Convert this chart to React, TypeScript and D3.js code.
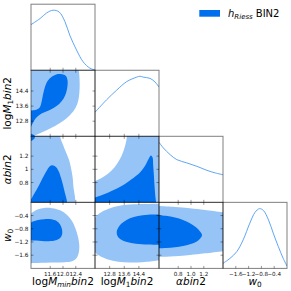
import * as d3 from 'd3';

// parameter ranges (same limits used for rows and columns)
const mminRange = [11, 13];
const m1Range = [12, 15.5];
const alphaRange = [0.5, 1.5];
const w0Range = [-2, 0];

const mminTicks = [11.6, 12.0, 12.4];
const mminTickLabels = ['11.6', '12.0', '12.4'];
const m1Ticks = [12.8, 13.6, 14.4];
const m1TickLabels = ['12.8', '13.6', '14.4'];
const alphaTicks = [0.8, 1.0, 1.2];
const alphaXTickLabels = ['0.8', '1.0', '1.2'];
const alphaYTickLabels = ['0.8', '1', '1.2'];
const w0Ticks = [-1.6, -1.2, -0.8, -0.4];
const w0TickLabels = ['\u22121.6', '\u22121.2', '\u22120.8', '\u22120.4'];

// 1D marginals (normalised to peak = 1)
const mminDensity = [[11.0, 0.76], [11.28, 0.86], [11.49, 0.955], [11.69, 1.0], [11.88, 0.97], [12.06, 0.81], [12.21, 0.585], [12.42, 0.34], [12.63, 0.14], [12.84, 0.035], [13.0, 0.005]];
const m1Density = [[12.0, 0.4], [12.64, 0.61], [13.19, 0.77], [13.73, 0.91], [14.28, 0.985], [14.46, 1.0], [14.64, 0.985], [15.01, 0.965], [15.28, 0.905], [15.5, 0.82]];
const alphaDensity = [[0.5, 1.0], [0.567, 0.907], [0.673, 0.795], [0.778, 0.712], [0.935, 0.657], [1.092, 0.6], [1.249, 0.533], [1.379, 0.49], [1.5, 0.46]];
const w0Density = [[-2.0, 0.084], [-1.78, 0.168], [-1.57, 0.279], [-1.37, 0.475], [-1.16, 0.755], [-1.0, 0.933], [-0.86, 0.995], [-0.74, 0.966], [-0.58, 0.81], [-0.43, 0.587], [-0.27, 0.362], [-0.12, 0.168], [0.0, 0.04]];

// 2D contour outlines (68% dark, 95% light), in data units
const m1MminLight = [
  [[12.48, 15.72], [12.51, 15.25], [12.52, 14.56], [12.48, 13.92], [12.39, 13.5], [12.22, 13.13], [12.0, 12.81], [11.75, 12.55], [11.47, 12.31], [11.19, 12.1], [10.94, 11.91]],
  [[10.8, 11.9], [10.8, 15.8], [12.48, 15.8]],
];
const m1MminDark = [
  [[10.94, 13.37], [11.13, 13.39], [11.27, 13.53], [11.33, 13.82], [11.38, 14.24], [11.44, 14.64], [11.53, 14.96], [11.66, 15.17], [11.81, 15.29], [11.97, 15.29], [12.09, 15.2], [12.14, 14.98], [12.14, 14.67], [12.1, 14.32], [12.02, 14.0], [11.88, 13.71], [11.66, 13.46], [11.42, 13.27], [11.25, 13.12], [11.13, 12.92], [11.05, 12.68], [10.97, 12.39]],
  [[10.9, 12.39], [10.9, 13.37]],
];
const m1MminDarkCorner = [
  [[10.94, 12.15], [11.03, 12.12], [11.11, 12.04], [11.14, 11.94]],
  [[10.94, 11.94]],
];
const alphaMminLight = [
  [[11.91, 1.535], [11.92, 1.474], [12.0, 1.373], [12.09, 1.262], [12.19, 1.141], [12.25, 1.02], [12.3, 0.884], [12.33, 0.717], [12.37, 0.596], [12.39, 0.46]],
  [[10.9, 0.46], [10.9, 1.535]],
];
const alphaMminDark = [
  [[10.95, 0.498], [11.06, 0.596], [11.17, 0.687], [11.31, 0.816], [11.48, 0.97], [11.58, 1.043], [11.67, 1.061], [11.77, 1.038], [11.86, 0.975], [11.94, 0.869], [12.0, 0.763], [12.06, 0.641], [12.11, 0.551], [12.14, 0.459]],
  [[10.95, 0.459]],
];
const alphaMminDarkCorner = [
  [[11.14, 1.53], [11.11, 1.47], [11.05, 1.44], [10.94, 1.42]],
  [[10.94, 1.53]],
];
const w0MminLight = [
  [[10.94, -0.413], [11.06, -0.292], [11.22, -0.207], [11.41, -0.171], [11.66, -0.177], [11.91, -0.241], [12.11, -0.368], [12.27, -0.549], [12.39, -0.792], [12.47, -1.049], [12.51, -1.322], [12.49, -1.533], [12.42, -1.694], [12.28, -1.785], [12.06, -1.815], [11.78, -1.824], [11.47, -1.83], [11.19, -1.836], [10.94, -1.842]],
  [[10.9, -1.842], [10.9, -0.413]],
];
const w0MminDark = [
  [[10.94, -0.64], [11.06, -0.58], [11.22, -0.534], [11.41, -0.51], [11.63, -0.513], [11.8, -0.565], [11.91, -0.671], [11.97, -0.822], [11.97, -0.973], [11.91, -1.079], [11.77, -1.149], [11.56, -1.176], [11.34, -1.17], [11.16, -1.158], [10.94, -1.155]],
  [[10.9, -1.155], [10.9, -0.64]],
];
const alphaM1Light = [
  [[13.75, 1.535], [13.72, 1.444], [13.61, 1.323], [13.45, 1.2], [13.2, 1.081], [12.88, 0.975], [12.49, 0.891], [12.14, 0.838], [11.89, 0.808]],
  [[11.89, 0.46], [15.6, 0.46], [15.6, 1.535]],
];
const alphaM1Dark = [
  [[11.89, 0.566], [12.16, 0.589], [12.49, 0.622], [12.93, 0.676], [13.48, 0.752], [14.02, 0.854], [14.46, 0.952], [14.73, 1.05], [14.93, 1.156], [15.06, 1.209], [15.15, 1.179], [15.18, 1.065], [15.22, 0.914], [15.26, 0.732], [15.31, 0.566], [15.36, 0.46]],
  [[11.89, 0.46]],
];
const w0M1Light = [
  [[15.61, -0.041], [14.73, -0.05], [13.91, -0.065], [13.26, -0.111], [12.71, -0.202], [12.27, -0.322], [12.06, -0.428], [11.89, -0.519]],
  [[11.89, -1.443], [12.06, -1.549], [12.27, -1.624], [12.71, -1.73], [13.26, -1.8], [13.91, -1.824], [14.73, -1.806], [15.61, -1.745]],
];
const w0M1Dark = [
  [[15.61, -0.368], [14.9, -0.374], [14.35, -0.413], [13.91, -0.483], [13.56, -0.595], [13.31, -0.731], [13.19, -0.883], [13.23, -1.019], [13.42, -1.125], [13.75, -1.2], [14.24, -1.255], [14.9, -1.279], [15.61, -1.285]],
];
const w0AlphaLight = [
  [[0.47, -0.111], [0.75, -0.141], [0.984, -0.18], [1.219, -0.232], [1.55, -0.31]],
  [[1.55, -1.465], [1.219, -1.543], [0.984, -1.594], [0.75, -1.633], [0.47, -1.655]],
];
const w0AlphaDark = [
  [[0.469, -0.383], [0.609, -0.407], [0.75, -0.459], [0.875, -0.534], [0.984, -0.634], [1.078, -0.755], [1.141, -0.883], [1.172, -0.988], [1.141, -1.101], [1.078, -1.2], [0.984, -1.27], [0.875, -1.322], [0.75, -1.358], [0.609, -1.382], [0.469, -1.391]],
];

const FONT = 'DejaVu Sans, sans-serif';
const LEFT = 31;
const TOP = 4.2;
const CW = 64;
const CH = 66.05;
const DARK = '#006FED';
const LIGHT = '#96C4F6';
const LINE = '#4D9CF2';
const TICK = 2.5;

type Pt = number[];

function regionPath(segs: Pt[][], sx: any, sy: any) {
  const line = d3.line<Pt>().x((d) => sx(d[0])).y((d) => sy(d[1])).curve(d3.curveCatmullRom.alpha(0.5));
  let d = '';
  segs.forEach((s, k) => {
    if (s.length >= 3) {
      const p = line(s)!;
      d += k ? 'L' + p.slice(1) : p;
    } else {
      s.forEach((pt, m) => {
        d += (k === 0 && m === 0 ? 'M' : 'L') + sx(pt[0]) + ',' + sy(pt[1]);
      });
    }
  });
  return d + 'Z';
}

export default function App() {
  const ranges = [mminRange, m1Range, alphaRange, w0Range];
  const ticks = [mminTicks, m1Ticks, alphaTicks, w0Ticks];
  const xTickLabels = [mminTickLabels, m1TickLabels, alphaXTickLabels, w0TickLabels];
  const yTickLabels = [null, m1TickLabels, alphaYTickLabels, w0TickLabels];
  const densities = [mminDensity, m1Density, alphaDensity, w0Density];

  const xs = ranges.map((r, j) => d3.scaleLinear().domain(r).range([LEFT + j * CW, LEFT + (j + 1) * CW]));
  const ys = ranges.map((r, i) => d3.scaleLinear().domain(r).range([TOP + (i + 1) * CH, TOP + i * CH]));
  const ds = ranges.map((_, i) => d3.scaleLinear().domain([0, 1.1]).range([TOP + (i + 1) * CH, TOP + i * CH]));

  const regions = [
    { row: 1, col: 0, fill: LIGHT, segs: m1MminLight },
    { row: 1, col: 0, fill: DARK, segs: m1MminDark },
    { row: 1, col: 0, fill: DARK, segs: m1MminDarkCorner },
    { row: 2, col: 0, fill: LIGHT, segs: alphaMminLight },
    { row: 2, col: 0, fill: DARK, segs: alphaMminDark },
    { row: 2, col: 0, fill: DARK, segs: alphaMminDarkCorner },
    { row: 3, col: 0, fill: LIGHT, segs: w0MminLight },
    { row: 3, col: 0, fill: DARK, segs: w0MminDark },
    { row: 2, col: 1, fill: LIGHT, segs: alphaM1Light },
    { row: 2, col: 1, fill: DARK, segs: alphaM1Dark },
    { row: 3, col: 1, fill: LIGHT, segs: w0M1Light },
    { row: 3, col: 1, fill: DARK, segs: w0M1Dark },
    { row: 3, col: 2, fill: LIGHT, segs: w0AlphaLight },
    { row: 3, col: 2, fill: DARK, segs: w0AlphaDark },
  ];

  const panels: { i: number; j: number }[] = [];
  for (let i = 0; i < 4; i++) for (let j = 0; j <= i; j++) panels.push({ i, j });

  const line1d = d3.line<Pt>().curve(d3.curveCatmullRom.alpha(0.5));

  return (
    <svg width={291} height={291} style={{ position: 'absolute', left: 0, top: 0 }} fontFamily={FONT}>
      <defs>
        {panels.map(({ i, j }) => (
          <clipPath key={`c${i}${j}`} id={`clip${i}${j}`}>
            <rect x={LEFT + j * CW} y={TOP + i * CH} width={CW} height={CH} />
          </clipPath>
        ))}
      </defs>

      {regions.map((r, k) => (
        <path key={`r${k}`} d={regionPath(r.segs, xs[r.col], ys[r.row])} fill={r.fill} clipPath={`url(#clip${r.row}${r.col})`} />
      ))}

      {densities.map((dd, i) => (
        <path
          key={`d${i}`}
          d={line1d.x((p) => xs[i](p[0])).y((p) => ds[i](p[1]))(dd)!}
          fill="none"
          stroke={LINE}
          strokeWidth={0.9}
          clipPath={`url(#clip${i}${i})`}
        />
      ))}

      {panels.map(({ i, j }) => {
        const x0 = LEFT + j * CW;
        const y0 = TOP + i * CH;
        const marks: any[] = [];
        ticks[j].forEach((t, k) => {
          const x = xs[j](t);
          marks.push(<line key={`xb${k}`} x1={x} x2={x} y1={y0 + CH} y2={y0 + CH - TICK} />);
          if (i !== j) marks.push(<line key={`xt${k}`} x1={x} x2={x} y1={y0} y2={y0 + TICK} />);
        });
        if (i !== j) {
          ticks[i].forEach((t, k) => {
            const y = ys[i](t);
            marks.push(<line key={`yl${k}`} x1={x0} x2={x0 + TICK} y1={y} y2={y} />);
            marks.push(<line key={`yr${k}`} x1={x0 + CW} x2={x0 + CW - TICK} y1={y} y2={y} />);
          });
        }
        return (
          <g key={`p${i}${j}`} stroke="#000" strokeOpacity={0.5} strokeWidth={0.8}>
            {marks}
            <rect x={x0} y={y0} width={CW} height={CH} fill="none" strokeWidth={1} />
          </g>
        );
      })}

      {/* x tick labels along the bottom row */}
      {ticks.map((tt, j) =>
        tt.map((t, k) => (
          <text key={`xl${j}${k}`} x={xs[j](t)} y={276} fontSize={5.6} textAnchor="middle" fill="#111">
            {xTickLabels[j][k]}
          </text>
        ))
      )}
      {/* y tick labels on the left column */}
      {[1, 2, 3].map((i) =>
        ticks[i].map((t, k) => (
          <text key={`yl${i}${k}`} x={28.5} y={ys[i](t)} fontSize={5.8} textAnchor="end" dominantBaseline="central" fill="#111">
            {yTickLabels[i]![k]}
          </text>
        ))
      )}

      {/* axis labels */}
      <g fontSize={10.5} fill="#000">
        <text x={LEFT + 0.5 * CW} y={284.5} textAnchor="middle">
          <tspan>log</tspan>
          <tspan fontStyle="italic">M</tspan>
          <tspan fontStyle="italic" fontSize={7.3} dy={2.2}>min</tspan>
          <tspan fontStyle="italic" dy={-2.2}>bin</tspan>
          <tspan>2</tspan>
        </text>
        <text x={LEFT + 1.5 * CW} y={284.5} textAnchor="middle">
          <tspan>log</tspan>
          <tspan fontStyle="italic">M</tspan>
          <tspan fontSize={7.3} dy={2.2}>1</tspan>
          <tspan fontStyle="italic" dy={-2.2}>bin</tspan>
          <tspan>2</tspan>
        </text>
        <text x={LEFT + 2.5 * CW} y={284.5} textAnchor="middle">
          <tspan fontStyle="italic">αbin</tspan>
          <tspan>2</tspan>
        </text>
        <text x={LEFT + 3.5 * CW} y={284.5} textAnchor="middle">
          <tspan fontStyle="italic">w</tspan>
          <tspan fontSize={7.3} dy={2.2}>0</tspan>
        </text>

        <text transform={`translate(11,${TOP + 1.5 * CH}) rotate(-90)`} textAnchor="middle">
          <tspan>log</tspan>
          <tspan fontStyle="italic">M</tspan>
          <tspan fontSize={7.3} dy={2.2}>1</tspan>
          <tspan fontStyle="italic" dy={-2.2}>bin</tspan>
          <tspan>2</tspan>
        </text>
        <text transform={`translate(11,${TOP + 2.5 * CH}) rotate(-90)`} textAnchor="middle">
          <tspan fontStyle="italic">αbin</tspan>
          <tspan>2</tspan>
        </text>
        <text transform={`translate(11,${TOP + 3.5 * CH}) rotate(-90)`} textAnchor="middle">
          <tspan fontStyle="italic">w</tspan>
          <tspan fontSize={7.3} dy={2.2}>0</tspan>
        </text>
      </g>

      {/* legend */}
      <rect x={199.3} y={10} width={20.7} height={6.7} fill={DARK} />
      <text x={228} y={17} fontSize={10} fill="#000">
        <tspan fontStyle="italic">h</tspan>
        <tspan fontStyle="italic" fontSize={7} dy={2}>Riess</tspan>
        <tspan dy={-2} dx={3}>BIN2</tspan>
      </text>
    </svg>
  );
}
